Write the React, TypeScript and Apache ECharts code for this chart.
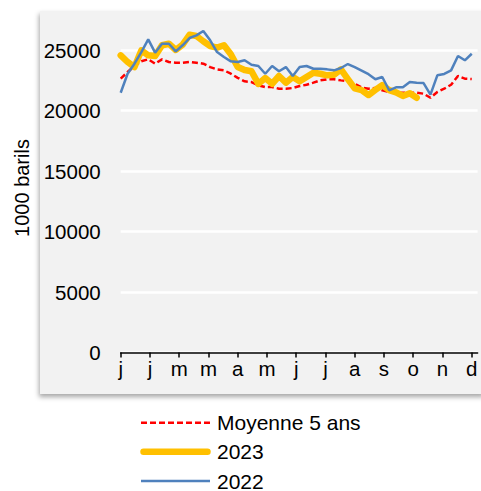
import React, { useEffect, useRef } from "react";
import * as echarts from "echarts";

const monthLabels = ["j", "j", "m", "m", "a", "m", "j", "j", "a", "s", "o", "n", "d"];

const avg5Years = [
  22630, 23180, 23680, 24065, 24230, 23870, 24230, 24010, 23950, 23950,
  24010, 23950, 23870, 23590, 23400, 23320, 23040, 22700, 22410, 22350,
  22080, 21940, 21940, 21800, 21800, 21860, 22020, 22130, 22300, 22490,
  22580, 22580, 22490, 22410, 22210, 21900, 21800, 21860, 21670, 21530,
  21470, 21470, 21470, 21470, 21390, 21050, 21530, 21800, 22130, 22850,
  22630, 22600,
];

const values2023 = [
  24560, 24010, 23590, 24970, 24560, 24500, 25390, 25520, 25000, 25440,
  26260, 26160, 25720, 25330, 25200, 25390, 24650, 23600, 23350, 23250,
  22200, 22680, 22210, 22850, 22300, 22770, 22410, 22770, 23120, 23040,
  22910, 22960, 23400, 22600, 21830, 21690, 21280, 21700, 22100, 21690,
  21500, 21200, 21420, 21050,
];

const values2022 = [
  21470, 23040, 23870, 24830, 25880, 24780, 25520, 25520, 24890, 25390,
  25990, 26210, 26570, 25800, 24830, 24420, 24065, 24010, 24150, 23780,
  23680, 23040, 23680, 23240, 23590, 22850, 23590, 23680, 23450, 23450,
  23400, 23320, 23510, 23840, 23590, 23300, 23000, 22580, 22770, 21670,
  21920, 21920, 22350, 22300, 22270, 21310, 22910, 23020, 23320, 24500,
  24150, 24690,
];

const WEEKS_PER_YEAR = 52;
const toPoints = (vals: number[]) =>
  vals.map((v, i) => [(i * 12) / (WEEKS_PER_YEAR - 1), v]);

const FONT = "'Liberation Sans', Arial, sans-serif";

export default function App() {
  const ref = useRef<HTMLDivElement>(null);

  useEffect(() => {
    if (!ref.current) return;
    const chart = echarts.init(ref.current, undefined, { renderer: "svg" });
    const option: any = {
      animation: false,
      backgroundColor: "#ffffff",
      grid: { left: 120.7, right: 3.4, top: 20, bottom: 138.5, containLabel: false },
      xAxis: {
        type: "value",
        min: 0,
        max: 12.2,
        interval: 1,
        splitLine: { show: false },
        axisLine: { show: true, onZero: false, lineStyle: { color: "#000", width: 1.5 } },
        axisTick: {
          show: true,
          length: 5,
          customValues: monthLabels.map((_, i) => i),
          lineStyle: { color: "#000", width: 1.5 },
        },
        axisLabel: {
          customValues: monthLabels.map((_, i) => i),
          formatter: (v: number) => {
            const k = Math.round(v);
            return Math.abs(v - k) < 1e-6 && monthLabels[k] !== undefined ? monthLabels[k] : "";
          },
          color: "#000",
          fontSize: 20.5,
          fontFamily: FONT,
          margin: 5,
        },
      },
      yAxis: {
        type: "value",
        min: 0,
        max: 27480,
        interval: 5000,
        axisLine: { show: false },
        axisTick: { show: false },
        splitLine: {
          show: true,
          showMaxLine: false,
          lineStyle: { color: "#ffffff", width: 2.5 },
        },
        axisLabel: {
          showMaxLabel: false,
          formatter: (v: number) => (v % 5000 === 0 ? String(v) : ""),
          color: "#000",
          fontSize: 20.5,
          fontFamily: FONT,
          margin: 20,
        },
      },
      graphic: [
        {
          type: "rect",
          z: -100,
          shape: { x: 40, y: 11, width: 445, height: 383 },
          style: {
            fill: "#f2f2f2",
            shadowBlur: 5,
            shadowOffsetY: 3,
            shadowOffsetX: -1,
            shadowColor: "rgba(0,0,0,0.35)",
          },
        },
        {
          type: "text",
          x: 22,
          y: 188,
          rotation: Math.PI / 2,
          style: {
            text: "1000 barils",
            fill: "#000",
            font: `20px ${FONT}`,
            align: "center",
            verticalAlign: "middle",
          },
        },
        {
          type: "line",
          shape: { x1: 141, y1: 422.7, x2: 210, y2: 422.7 },
          style: { stroke: "#ff0000", lineWidth: 2.5, lineDash: [6, 3] },
        },
        {
          type: "line",
          shape: { x1: 143.5, y1: 451.7, x2: 207.5, y2: 451.7 },
          style: { stroke: "#ffc000", lineWidth: 6.5, lineCap: "round" },
        },
        {
          type: "line",
          shape: { x1: 141, y1: 481, x2: 210, y2: 481 },
          style: { stroke: "#4f81bd", lineWidth: 2.5 },
        },
        {
          type: "text",
          x: 217,
          y: 422.7,
          style: { text: "Moyenne 5 ans", fill: "#000", font: `21px ${FONT}`, verticalAlign: "middle" },
        },
        {
          type: "text",
          x: 217,
          y: 451.7,
          style: { text: "2023", fill: "#000", font: `21px ${FONT}`, verticalAlign: "middle" },
        },
        {
          type: "text",
          x: 217,
          y: 481,
          style: { text: "2022", fill: "#000", font: `21px ${FONT}`, verticalAlign: "middle" },
        },
      ],
      series: [
        {
          name: "Moyenne 5 ans",
          type: "line",
          symbol: "none",
          z: 2,
          data: toPoints(avg5Years),
          lineStyle: { color: "#ff0000", width: 2.5, type: [6, 3] },
        },
        {
          name: "2023",
          type: "line",
          symbol: "none",
          z: 3,
          data: toPoints(values2023),
          lineStyle: { color: "#ffc000", width: 6.5, cap: "round", join: "round" },
        },
        {
          name: "2022",
          type: "line",
          symbol: "none",
          z: 4,
          data: toPoints(values2022),
          lineStyle: { color: "#4f81bd", width: 2.5 },
        },
      ],
    };
    chart.setOption(option);
    return () => chart.dispose();
  }, []);

  return (
    <div
      ref={ref}
      style={{ position: "fixed", left: 0, top: 0, width: 481, height: 491 }}
    />
  );
}
